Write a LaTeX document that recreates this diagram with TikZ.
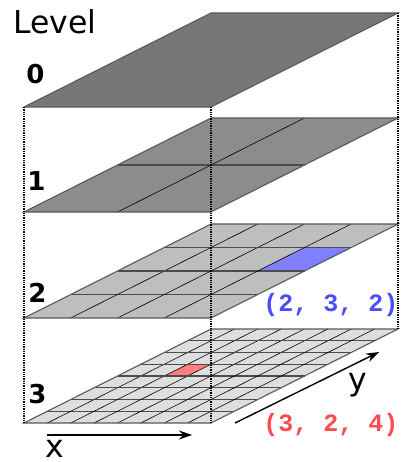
\documentclass[tikz,border=0pt]{standalone}
\usepackage{fontspec}
\setmainfont{DejaVu Sans}
\newfontfamily\monob{Liberation Mono}
\usetikzlibrary{arrows.meta}
\definecolor{lvzero}{HTML}{777777}
\definecolor{lvone}{HTML}{8C8C8C}
\definecolor{lvtwo}{HTML}{BEBEBE}
\definecolor{lvthree}{HTML}{DEDEDE}
\definecolor{cellblue}{HTML}{7F7FFF}
\definecolor{cellred}{HTML}{FF7F7F}
\definecolor{txtblue}{HTML}{4C4CFF}
\definecolor{txtred}{HTML}{FF4C4C}
\tikzset{
  planeedge/.style={draw=black!65, line width=1.1pt},
  xline/.style={draw=black!70, line width=1.2pt},
  yline/.style={draw=black, line width=0.6pt},
  guide/.style={densely dotted, line width=1.3pt},
  axisarrow/.style={-{Stealth[length=13pt,width=9pt]}, line width=1.4pt},
  lvl/.style={font=\fontsize{26}{26}\selectfont\bfseries, inner sep=0pt},
  coordlabel/.style={font=\monob\fontsize{25}{25}\selectfont\bfseries, inner sep=0pt},
  biglabel/.style={font=\fontsize{31.5}{31.5}\selectfont, inner sep=0pt},
}
\newcommand{\planefill}[2]{%
  \fill[#2] (24,#1) -- ++(187,0) -- ++(187,-94) -- ++(-187,0) -- cycle;}
\newcommand{\planegrid}[2]{%
  \pgfmathsetmacro\gdx{187/#2}%
  \pgfmathsetmacro\gdy{94/#2}%
  \pgfmathtruncatemacro\glast{#2-1}%
  \foreach \i in {1,...,\glast}{%
    \draw[xline] (24+\i*\gdx,#1-\i*\gdy) -- ++(187,0);
    \draw[yline] (24+\i*\gdx,#1) -- ++(187,-94);
  }}
\newcommand{\planeborder}[1]{%
  \draw[planeedge] (24,#1) -- ++(187,0) -- ++(187,-94) -- ++(-187,0) -- cycle;}
\begin{document}
\begin{tikzpicture}[x=1pt,y=-1pt]
\useasboundingbox (0,0) rectangle (404,462);
% level 0
\planefill{107}{lvzero}
\planeborder{107}
% level 1
\planefill{212}{lvone}
\planegrid{212}{2}
\planeborder{212}
% level 2
\planefill{318}{lvtwo}
\fill[cellblue] (24+5*46.75,318-2*23.5) -- ++(46.75,0) -- ++(46.75,-23.5) -- ++(-46.75,0) -- cycle;
\planegrid{318}{4}
\planeborder{318}
% level 3
\planefill{423}{lvthree}
\fill[cellred] (24+6*23.375,423-4*11.75) -- ++(23.375,0) -- ++(23.375,-11.75) -- ++(-23.375,0) -- cycle;
\planegrid{423}{8}
\planeborder{423}
% guides
\draw[guide] (24,107) -- (24,423);
\draw[guide] (211,107) -- (211,423);
\draw[guide] (398,13) -- (398,329);
% texts
\node[biglabel, anchor=base west] (levelhead) at (13,34) {Level};
\node[lvl, anchor=base] (lzero) at (35.5,84) {0};
\node[lvl, anchor=base] (lone) at (36.5,190) {1};
\node[lvl, anchor=base] (ltwo) at (37.5,302) {2};
\node[lvl, anchor=base] (lthree) at (37.5,403) {3};
\node[coordlabel, text=txtblue] (bluelabel) at (331,305) {(2, 3, 2)};
\node[coordlabel, text=txtred] (redlabel) at (331,425) {(3, 2, 4)};
% axes
\coordinate (xstart) at (47,435);
\coordinate (xend) at (192,435);
\coordinate (ystart) at (235,423);
\coordinate (yend) at (379,352);
\draw[axisarrow] (xstart) -- (xend);
\draw[axisarrow] (ystart) -- (yend);
\node[biglabel, anchor=base] (xlabel) at (55,457.5) {x};
\node[biglabel, anchor=base] (ylabel) at (358,390) {y};
\end{tikzpicture}
\end{document}
